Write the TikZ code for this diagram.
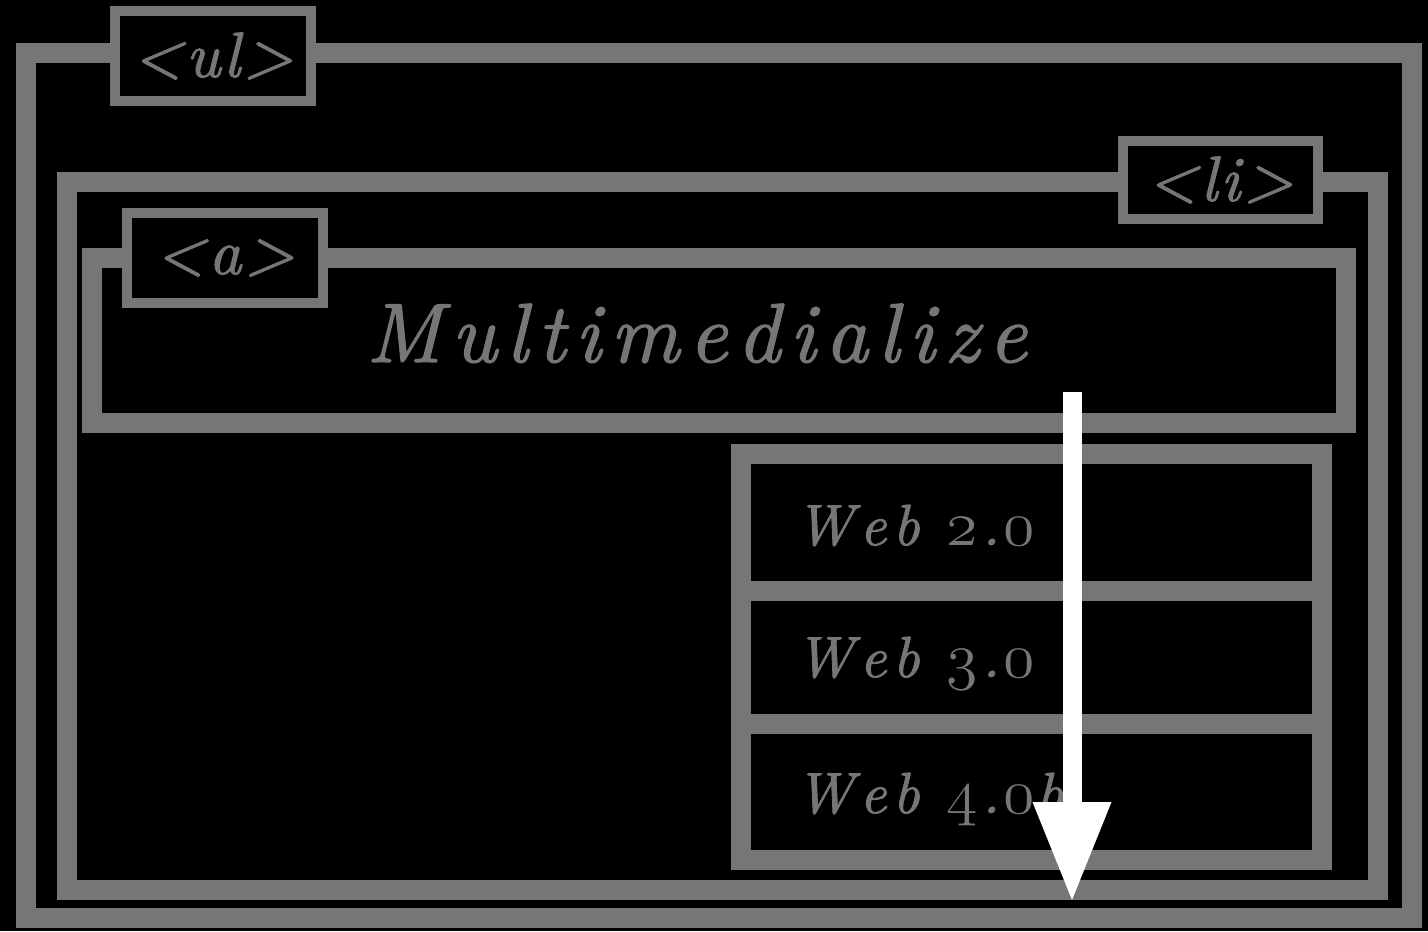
\RequirePackage{fix-cm}
\documentclass[tikz,border=0pt]{standalone}
\usepackage{fontspec}
\usetikzlibrary{fit,arrows.meta}
\definecolor{fg}{RGB}{118,118,118}
\newfontfamily\lmi{lmroman10-italic.otf}[FakeBold=1.5]
\makeatletter
\newcommand\spc[2]{\def\spc@k{#1}\@tfor\spc@t:=#2\do{\spc@t\kern\spc@k}}
\makeatother
\newcommand\osf[1]{{\fontencoding{OML}\fontfamily{cmm}\fontseries{m}\fontshape{it}\fontsize{32}{38}\selectfont #1}}
\newcommand\tagfont{\lmi\fontsize{32}{38}\selectfont}
\newcommand\titlefont{\lmi\fontsize{42}{50}\selectfont}
\newcommand\webfont{\lmi\fontsize{29}{34}\selectfont}
\newcommand\webk{\kern.07em}
\begin{document}
\begin{tikzpicture}[x=0.5pt, y=-0.5pt,
  frame/.style={draw=fg, line width=10pt, inner sep=0pt, outer sep=0pt},
  rowbox/.style={draw=fg, line width=10pt, inner sep=0pt, outer sep=0pt},
  tagbox/.style={draw=fg, fill=black, line width=5pt, inner sep=0pt, outer sep=0pt, text=fg, font=\tagfont},
  title/.style={text=fg, inner sep=0pt, font=\titlefont},
  webtxt/.style={text=fg, inner sep=0pt, font=\webfont},
  flow/.style={white, line width=9.5pt, -{Triangle[length=49pt,width=39.5pt,line width=0pt]}}]
\fill[black] (0,0) rectangle (1428,931);
\useasboundingbox (0,0) rectangle (1428,931);
% frames
\node[frame, fit={(26,53) (1412,918)}] (ul) {};
\node[frame, fit={(67,182) (1378,890)}] (li) {};
\node[frame, fit={(92,258) (1346,423)}] (a) {};
\node[rowbox, fit={(741,454) (1322,591)}] (r1) {};
\node[rowbox, fit={(741,591) (1322,724)}] (r2) {};
\node[rowbox, fit={(741,724) (1322,860)}] (r3) {};
% tags
\node[tagbox, minimum width=98pt, minimum height=45pt] (ultag) at (213,56) {\spc{.05em}{<ul>}\kern-.05em};
\node[tagbox, minimum width=97.5pt, minimum height=39pt] (litag) at (1220.5,180) {\spc{.05em}{<li>}\kern-.05em};
\node[tagbox, minimum width=98pt, minimum height=45pt] (atag) at (225,258) {\spc{.05em}{<a>}\kern-.05em};
% texts
\node[title, anchor=base west] (mm) at (366,362) {\spc{.115em}{Multimedialize}};
\node[webtxt, anchor=base west] (w2) at (795,545) {\spc{.11em}{Web} \osf{2}\webk.\webk\osf{0}};
\node[webtxt, anchor=base west] (w3) at (795,677) {\spc{.11em}{Web} \osf{3}\webk.\webk\osf{0}};
\node[webtxt, anchor=base west] (w4) at (795,813) {\spc{.11em}{Web} \osf{4}\webk.\webk\osf{0}\kern.02em b};
% arrow
\coordinate (arrS) at (1072,392);
\coordinate (arrE) at (1072,900);
\draw[flow] (arrS) -- (arrE);
\end{tikzpicture}
\end{document}
